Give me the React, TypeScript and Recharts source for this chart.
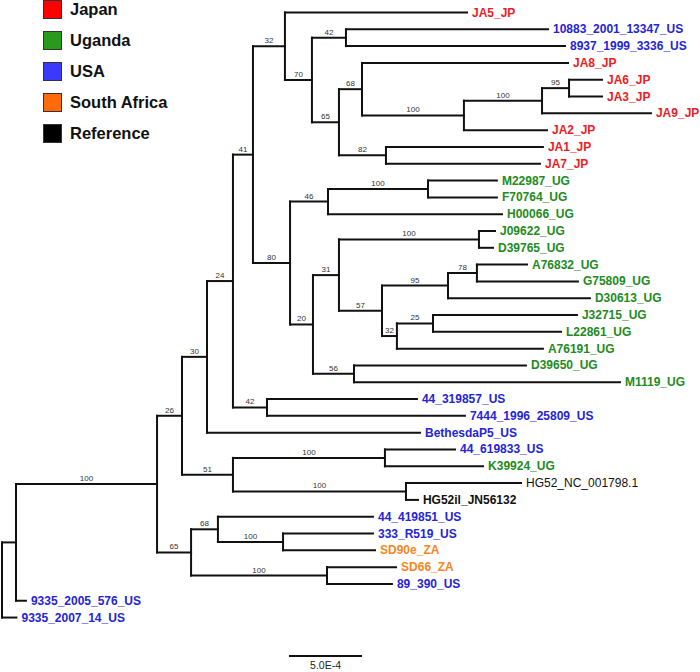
import { Legend, ReferenceLine, Scatter, ScatterChart, XAxis, YAxis } from "recharts";

// groups shown in the legend, in order
const groups = ["Japan", "Uganda", "USA", "South Africa", "Reference"];
const groupSwatch = ["#fe0000", "#2a9a1c", "#3a3aff", "#ff6a0a", "#000000"];
const groupText = ["#ec1c24", "#228b22", "#2424d8", "#f7861f", "#111111"];

// leaves, top to bottom
const leafNames = [
  "JA5_JP", "10883_2001_13347_US", "8937_1999_3336_US", "JA8_JP", "JA6_JP", "JA3_JP",
  "JA9_JP", "JA2_JP", "JA1_JP", "JA7_JP", "M22987_UG", "F70764_UG", "H00066_UG",
  "J09622_UG", "D39765_UG", "A76832_UG", "G75809_UG", "D30613_UG", "J32715_UG",
  "L22861_UG", "A76191_UG", "D39650_UG", "M1119_UG", "44_319857_US", "7444_1996_25809_US",
  "BethesdaP5_US", "44_619833_US", "K39924_UG", "HG52_NC_001798.1", "HG52il_JN56132",
  "44_419851_US", "333_R519_US", "SD90e_ZA", "SD66_ZA", "89_390_US", "9335_2005_576_US",
  "9335_2007_14_US",
];
const leafGroup = [
  0, 2, 2, 0, 0, 0, 0, 0, 0, 0, 1, 1, 1, 1, 1, 1, 1, 1, 1, 1, 1, 1, 1, 2, 2, 2, 2, 1, 4, 4,
  2, 2, 3, 3, 2, 2, 2,
];
// distance from root, in units of 1E-4
const leafDepth = [
  31.85, 37.4, 38.56, 38.77, 41.1, 41.1, 44.45, 37.33, 37.05, 36.85, 33.9, 33.9, 34.25,
  33.77, 33.63, 35.96, 39.45, 40.27, 39.38, 38.29, 37.05, 35.89, 42.33, 28.42, 31.71,
  28.63, 31.03, 32.95, 35.55, 28.49, 25.41, 25.41, 25.55, 26.99, 26.71, 1.64, 0.99,
];
// the one label printed in regular weight
const regularLeaves = ["HG52_NC_001798.1"];

// internal nodes
const nodeIds = [
  "root", "a", "b", "n26", "n30", "n24", "n41", "n32", "n70", "n42", "n65", "n68", "n100a",
  "n100b", "n95", "n82", "n80", "n46", "n100c", "n20", "n31", "n100d", "n57", "n95b", "n78",
  "n32b", "n25", "n56", "n42b", "n51", "n100e", "n100f", "n65b", "n68b", "n100g", "n100h",
];
const nodeDepth = [
  0, 0.96, 10.62, 12.33, 14.04, 15.82, 17.19, 19.38, 21.23, 23.56, 23.08, 24.66, 31.64,
  36.99, 38.84, 26.3, 19.73, 22.33, 29.18, 21.3, 23.08, 32.67, 26.03, 30.55, 32.53, 27.05,
  29.52, 24.11, 18.15, 15.82, 26.23, 27.67, 12.95, 14.79, 19.25, 22.26,
];
const nodeSupport = [
  "", "", "100", "26", "30", "24", "41", "32", "70", "42", "65", "68", "100", "100", "95",
  "82", "80", "46", "100", "20", "31", "100", "57", "95", "78", "32", "25", "56", "42", "51",
  "100", "100", "65", "68", "100", "100",
];
const nodeChildren = [
  ["a", "L36"], ["b", "L35"], ["n26", "n65b"], ["n30", "n51"], ["n24", "L25"],
  ["n41", "n42b"], ["n32", "n80"], ["L0", "n70"], ["n42", "n65"], ["L1", "L2"],
  ["n68", "n82"], ["L3", "n100a"], ["n100b", "L7"], ["n95", "L6"], ["L4", "L5"],
  ["L8", "L9"], ["n46", "n20"], ["n100c", "L12"], ["L10", "L11"], ["n31", "n56"],
  ["n100d", "n57"], ["L13", "L14"], ["n95b", "n32b"], ["n78", "L17"], ["L15", "L16"],
  ["n25", "L20"], ["L18", "L19"], ["L21", "L22"], ["L23", "L24"], ["n100e", "n100f"],
  ["L26", "L27"], ["L28", "L29"], ["n68b", "n100h"], ["L30", "n100g"], ["L31", "L32"],
  ["L33", "L34"],
];

const scaleBarStart = 19.66;
const scaleBarLength = 5;
const scaleBarRow = 39.29;
const scaleBarLabel = "5.0E-4";

const FONT = "'Liberation Sans', Arial, Helvetica, sans-serif";

// layout: leaves get rows 1..n, internal nodes sit between their children
const yOf: Record<string, number> = {};
const depthOf: Record<string, number> = {};
leafNames.forEach((_, i) => {
  yOf["L" + i] = i + 1;
  depthOf["L" + i] = leafDepth[i];
});
const nodeIndex: Record<string, number> = {};
nodeIds.forEach((id, i) => {
  nodeIndex[id] = i;
  depthOf[id] = nodeDepth[i];
});
const resolveY = (id: string): number => {
  if (id in yOf) return yOf[id];
  const ys = nodeChildren[nodeIndex[id]].map(resolveY);
  yOf[id] = (Math.min(...ys) + Math.max(...ys)) / 2;
  return yOf[id];
};
nodeIds.forEach((id) => resolveY(id));

type Pt = { x: number; y: number };
const segments: [Pt, Pt][] = [];
const supportPoints: { x: number; y: number; text: string }[] = [];
nodeIds.forEach((id, i) => {
  const kids = nodeChildren[i];
  const ys = kids.map((k) => yOf[k]);
  segments.push([
    { x: nodeDepth[i], y: Math.min(...ys) },
    { x: nodeDepth[i], y: Math.max(...ys) },
  ]);
  kids.forEach((k) => {
    segments.push([
      { x: nodeDepth[i], y: yOf[k] },
      { x: depthOf[k], y: yOf[k] },
    ]);
    const support = k in nodeIndex ? nodeSupport[nodeIndex[k]] : "";
    if (support) {
      supportPoints.push({ x: (nodeDepth[i] + depthOf[k]) / 2, y: yOf[k], text: support });
    }
  });
});

const leafPoints = leafNames.map((name, i) => ({
  x: leafDepth[i],
  y: i + 1,
  name,
  color: groupText[leafGroup[i]],
  weight: regularLeaves.includes(name) ? 400 : 700,
}));

const SupportText = (props: any) => (
  <text
    x={props.cx}
    y={props.cy - 3}
    textAnchor="middle"
    fontSize={8}
    fontFamily={FONT}
    fill="#333"
  >
    {props.payload.text}
  </text>
);

const LeafText = (props: any) => (
  <text
    x={props.cx + 5}
    y={props.cy}
    dominantBaseline="central"
    fontSize={12}
    fontWeight={props.payload.weight}
    fontFamily={FONT}
    fill={props.payload.color}
  >
    {props.payload.name}
  </text>
);

const GroupLegend = () => (
  <div style={{ fontFamily: FONT }}>
    {groups.map((g, i) => (
      <div key={g} style={{ display: "flex", alignItems: "center", height: 31 }}>
        <span
          style={{
            width: 19,
            height: 19,
            boxSizing: "border-box",
            border: "1px solid #333",
            background: groupSwatch[i],
            marginRight: 8,
          }}
        />
        <span style={{ fontSize: 16.5, fontWeight: 700, color: "#111" }}>{g}</span>
      </div>
    ))}
  </div>
);

export default function App() {
  return (
    <div style={{ position: "absolute", left: 0, top: 0, width: 700, height: 672, background: "#fff" }}>
      <ScatterChart width={700} height={672} margin={{ top: 0, right: 0, bottom: 0, left: 2 }}>
        <XAxis type="number" dataKey="x" domain={[0, 47.81]} hide allowDataOverflow />
        <YAxis type="number" dataKey="y" domain={[0.256, 40.24]} reversed hide allowDataOverflow />
        {segments.map((s, i) => (
          <ReferenceLine
            key={i}
            segment={s}
            stroke="#111"
            strokeWidth={2}
            strokeLinecap="square"
            ifOverflow="visible"
          />
        ))}
        <ReferenceLine
          segment={[
            { x: scaleBarStart, y: scaleBarRow },
            { x: scaleBarStart + scaleBarLength, y: scaleBarRow },
          ]}
          stroke="#111"
          strokeWidth={2}
          ifOverflow="visible"
          label={{
            value: scaleBarLabel,
            position: "bottom",
            offset: 6,
            fontSize: 10.5,
            fontFamily: FONT,
            fill: "#222",
          }}
        />
        <Scatter data={supportPoints} isAnimationActive={false} shape={SupportText} />
        <Scatter data={leafPoints} isAnimationActive={false} shape={LeafText} />
        <Legend
          content={GroupLegend}
          layout="vertical"
          align="center"
          verticalAlign="middle"
          wrapperStyle={{ top: -6, left: 43, width: 200 }}
        />
      </ScatterChart>
    </div>
  );
}
